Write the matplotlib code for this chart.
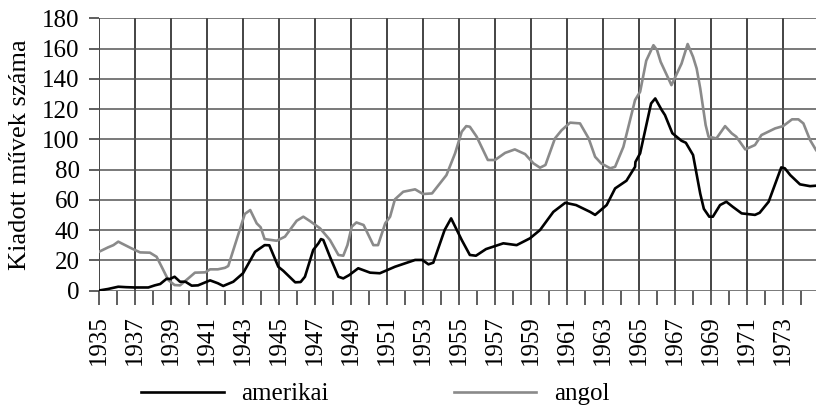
import matplotlib
matplotlib.use('Agg')
import matplotlib.pyplot as plt
from matplotlib.ticker import MultipleLocator

# values
am_years = [1935.0, 1935.5, 1936.07, 1936.5, 1937.0, 1937.74, 1938.1, 1938.4, 1938.76, 1938.94,
            1939.2, 1939.5, 1939.8, 1940.15, 1940.5, 1941.17, 1941.6, 1941.9, 1942.46, 1943.0,
            1943.67, 1944.2, 1944.46, 1944.96, 1945.24, 1945.9, 1946.2, 1946.44, 1946.9, 1947.19,
            1947.33, 1947.46, 1947.83, 1948.3, 1948.57, 1948.9, 1949.4, 1950.06, 1950.6, 1951.44,
            1952.56, 1952.96, 1953.3, 1953.57, 1954.2, 1954.56, 1955.15, 1955.6, 1955.94, 1956.5,
            1957.46, 1958.2, 1958.94, 1959.5, 1960.24, 1960.9, 1961.5, 1962.28, 1962.56, 1962.83,
            1963.2, 1963.67, 1964.3, 1964.78, 1964.8, 1965.06, 1965.6, 1965.67, 1965.9, 1966.26,
            1966.44, 1966.85, 1967.36, 1967.6, 1968.0, 1968.4, 1968.6, 1968.9, 1969.1, 1969.5,
            1969.85, 1970.2, 1970.7, 1971.44, 1971.7, 1972.2, 1972.9, 1973.1, 1973.4, 1973.94,
            1974.5, 1974.83]
amerikai = [0, 1, 2.5, 2.2, 2, 2, 3.4, 4.3, 7.8, 7.6,
            9.1, 5.8, 5.8, 3.2, 3.4, 6.7, 4.8, 3, 5.8, 11.4,
            25.6, 30, 29.9, 15.7, 13, 5.4, 5.6, 9.1, 26.8, 31.2,
            34, 33.4, 22.3, 9.1, 8, 10.2, 14.7, 11.8, 11.4, 15.7,
            20.2, 20.2, 17.3, 18.4, 40, 47.7, 33.4, 23.5, 23, 27.4,
            31.2, 30, 34.5, 40, 52, 58, 56.5, 52, 50, 52.7,
            56.5, 67.5, 72.6, 81.8, 85, 90.7, 120, 123.7, 127, 119.3,
            116, 104, 99, 97.7, 89.6, 64, 54, 48.8, 48.8, 56.5,
            58.7, 55.4, 51, 50, 51.4, 58.7, 81.4, 80.8, 76.3, 70.2,
            69, 69.3]

an_years = [1935.0, 1935.5, 1935.8, 1936.07, 1936.25, 1936.8, 1937.28, 1937.83, 1938.2, 1938.48,
            1938.85, 1939.2, 1939.5, 1939.96, 1940.33, 1940.9, 1941.17, 1941.6, 1942.0, 1942.18,
            1942.64, 1943.1, 1943.4, 1943.76, 1943.98, 1944.2, 1944.87, 1945.33, 1945.98, 1946.35,
            1946.72, 1947.28, 1947.83, 1948.3, 1948.57, 1948.8, 1949.04, 1949.3, 1949.7, 1950.24,
            1950.5, 1950.9, 1951.17, 1951.44, 1951.9, 1952.56, 1953.0, 1953.5, 1954.3, 1954.78,
            1955.15, 1955.4, 1955.6, 1955.98, 1956.6, 1957.0, 1957.56, 1958.1, 1958.67, 1959.13,
            1959.5, 1959.8, 1960.33, 1960.7, 1961.17, 1961.72, 1962.2, 1962.56, 1962.9, 1963.4,
            1963.67, 1964.13, 1964.78, 1965.06, 1965.4, 1965.8, 1966.0, 1966.2, 1966.8, 1967.36,
            1967.7, 1968.0, 1968.2, 1968.4, 1968.7, 1968.86, 1969.3, 1969.78, 1970.15, 1970.4,
            1970.9, 1971.44, 1971.8, 1972.56, 1973.0, 1973.5, 1973.85, 1974.13, 1974.5, 1974.83]
angol = [25.6, 28.5, 30, 32.3, 31.2, 27.9, 25.2, 25, 22.3, 15.7,
         6.9, 3.6, 3.4, 8, 11.8, 12, 14, 14, 15, 16.2,
         33.4, 50.6, 53.2, 44.4, 41.8, 34, 32.9, 35.6, 46.1, 48.8,
         45.9, 41.1, 33.4, 23.5, 23, 30, 42.2, 45, 43.3, 30,
         30, 44.4, 48.8, 60.3, 65.3, 66.9, 63.8, 64.2, 76.3, 90.7,
         105, 108.7, 108.3, 101.7, 86.3, 86.3, 91, 93.3, 90.2, 84.1,
         81.2, 83, 100.6, 106, 111, 110.5, 100.6, 88.4, 84, 80.8,
         81.8, 95, 126, 131.4, 152, 162.2, 159, 151.2, 135.8, 150,
         163, 154.5, 146.8, 133.6, 109.4, 101.7, 100.6, 108.7, 103.9, 101.7,
         93.3, 96.2, 102.8, 107.2, 108.7, 113.2, 113.2, 110.5, 99.5, 92.9]

year_labels = list(range(1935, 1975, 2))

plt.rcParams['font.family'] = ['Liberation Serif', 'DejaVu Serif']

fig = plt.figure(figsize=(8.16, 4.17), dpi=100)
ax = fig.add_axes([99 / 816, 126.5 / 417, 1 - 99 / 816, (290.5 - 18.3) / 417])

ax.plot(an_years, angol, color='#8a8a8a', lw=1.9, label='angol', zorder=3)
ax.plot(am_years, amerikai, color='black', lw=1.9, label='amerikai', zorder=4)

ax.set_xlim(1935, 1974.83)
ax.set_ylim(0, 180)

ax.yaxis.set_major_locator(MultipleLocator(20))
ax.set_xticks(year_labels)
ax.set_xticklabels([str(y) for y in year_labels], rotation=90)
ax.xaxis.set_minor_locator(MultipleLocator(1))

for s in ax.spines.values():
    s.set_visible(False)

ax.grid(axis='y', color='#555555', lw=1.1)
ax.grid(axis='x', which='major', color='#111111', lw=1.1)
ax.set_axisbelow(True)

ax.tick_params(axis='y', length=7, width=1.1, color='#333333', pad=7, labelsize=18)
ax.tick_params(axis='x', which='both', length=10, width=1.1, color='#333333')
ax.tick_params(axis='x', which='major', pad=8, labelsize=18)

ax.set_ylabel('Kiadott művek száma', fontsize=19, labelpad=8)

handles, labels = ax.get_legend_handles_labels()
fig.legend(handles[::-1], labels[::-1], loc='center', bbox_to_anchor=(0.46, 0.055),
           ncol=2, frameon=False, fontsize=18, handlelength=3.3, handletextpad=0.7,
           columnspacing=5.0)

fig.savefig('out.png', dpi=100)
